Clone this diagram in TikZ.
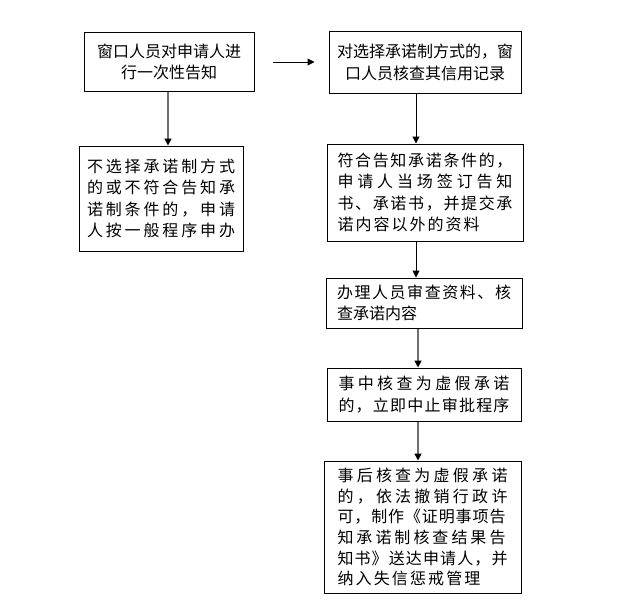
\documentclass[tikz,border=0pt]{standalone}
\usepackage{fontspec}
\newfontfamily\cjk{Noto Sans CJK SC}
\usetikzlibrary{arrows.meta}
\def\jend{}
\def\jrest#1{\ifx#1\jend\else\hfill#1\expandafter\jrest\fi}
\def\jfirst#1{#1\jrest}
\newcommand\jl[2]{\makebox[#1pt][s]{\jfirst#2\jend}}
\definecolor{arrgray}{RGB}{110,110,110}
\begin{document}
\begin{tikzpicture}[x=1pt,y=-1pt,
  box/.style={draw=black,line width=1pt,rectangle,inner sep=0pt,
    font=\cjk\fontsize{16}{21.5}\selectfont},
  arr/.style={line width=1pt,draw=black,-{Triangle[length=7pt,width=7pt,color=black]}},
  garr/.style={line width=1.6pt,draw=arrgray,-{Triangle[length=7pt,width=7pt,color=black]}}]
\useasboundingbox[fill=white] (0,0) rectangle (623,602);
\node[box,minimum width=170pt,minimum height=58pt,align=center] (A) at (169,62)
  {窗口人员对申请人进\\行一次性告知};
\node[box,minimum width=164pt,minimum height=105pt,text width=148pt,align=left] (B) at (161,198.5)
  {\jl{148}{不选择承诺制方式}\\\jl{148}{的或不符合告知承}\\\jl{148}{诺制条件的，申请}\\\jl{148}{人按一般程序申办}};
\node[box,minimum width=192pt,minimum height=61pt,align=center] (C) at (425,62.5)
  {对选择承诺制方式的，窗\\口人员核查其信用记录};
\node[box,minimum width=196pt,minimum height=97pt,text width=175pt,align=left] (D) at (425,192.5)
  {\jl{175}{符合告知承诺条件的，}\\\jl{175}{申请人当场签订告知}\\\jl{175}{书、承诺书，并提交承}\\\jl{142}{诺内容以外的资料}};
\node[box,minimum width=196pt,minimum height=50pt,text width=174pt,align=left] (E) at (424,303)
  {\jl{174}{办理人员审查资料、核}\\查承诺内容};
\node[box,minimum width=194pt,minimum height=53pt,text width=171pt,align=left] (F) at (424,394.5)
  {\jl{171}{事中核查为虚假承诺}\\\jl{171}{的，立即中止审批程序}};
\node[box,minimum width=197pt,minimum height=132pt,text width=170pt,align=left,
  font=\cjk\fontsize{16}{20.7}\selectfont] (G) at (422.5,527)
  {\jl{170}{事后核查为虚假承诺}\\\jl{170}{的，依法撤销行政许}\\\jl{168}{可，制作《证明事项告}\\\jl{168}{知承诺制核查结果告}\\\jl{170}{知书》送达申请人，并}\\\jl{143}{纳入失信惩戒管理}};
\draw[garr] ([xshift=-1pt]A.south) -- ([xshift=-1pt]A.south |- B.north);
\draw[arr] ([xshift=18pt]A.east) -- ([xshift=-14pt]A.east -| C.west);
\draw[arr] ([xshift=-9pt]C.south) -- ([xshift=-9pt]C.south |- D.north);
\draw[arr] ([xshift=-9pt]D.south) -- ([xshift=-9pt]D.south |- E.north);
\draw[garr] ([xshift=-6pt]E.south) -- ([xshift=-6pt]E.south |- F.north);
\draw[garr] ([xshift=-6pt]F.south) -- ([xshift=-6pt]F.south |- G.north);
\end{tikzpicture}
\end{document}
